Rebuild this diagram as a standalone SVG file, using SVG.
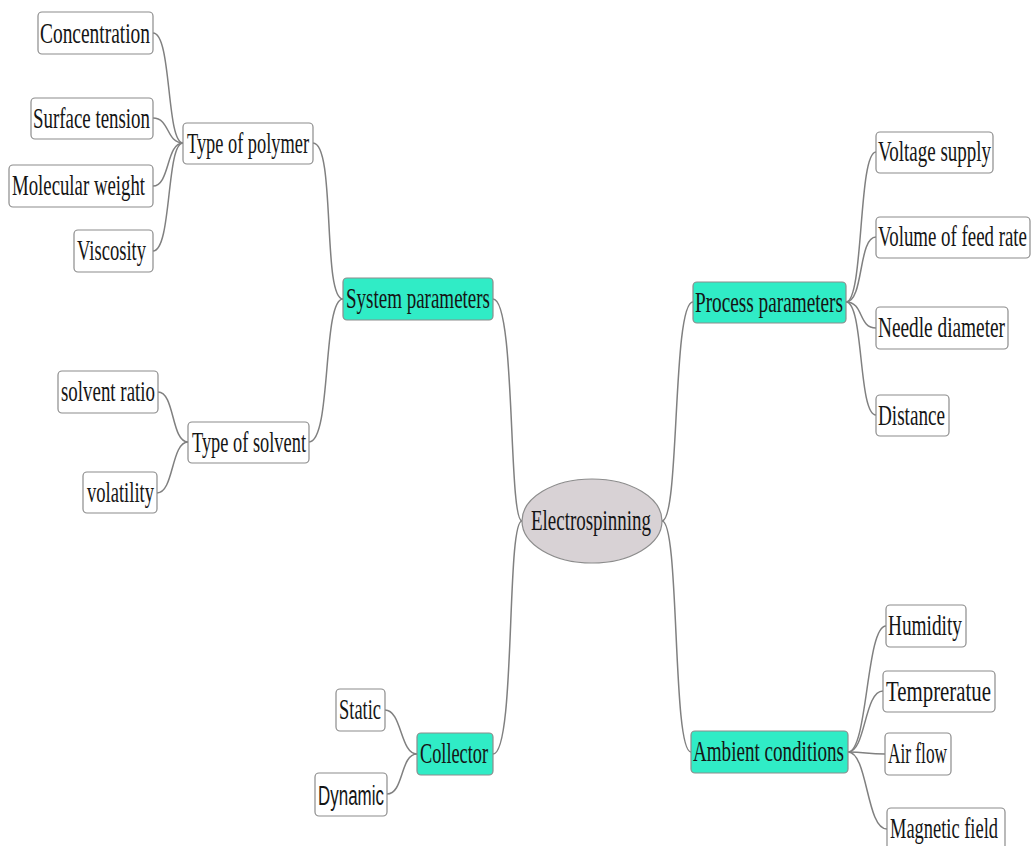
<svg xmlns="http://www.w3.org/2000/svg" width="1031" height="846" viewBox="0 0 1031 846">
<style>
.n rect{fill:#fff;stroke:#8c8c8c;stroke-width:1.2}
.m rect{fill:#30ecc6;stroke:#8c8c8c;stroke-width:1.2}
text{font-family:"Liberation Serif",serif;font-size:30px;fill:#151515}
.sans{font-family:"Liberation Sans",Arial,sans-serif;font-size:27px}
#conn path{fill:none;stroke:#808080;stroke-width:1.5}
</style>
<rect width="1031" height="846" fill="#fff"/>
<g id="conn">
<path d="M153,33 C172,33 166,143 183,143"/>
<path d="M153,118 C170,118 166,143 183,143"/>
<path d="M153,186 C170,186 166,143 183,143"/>
<path d="M153,251 C172,251 166,143 183,143"/>
<path d="M158,392 C175,392 171,442 188,442"/>
<path d="M157,493 C174,493 171,442 188,442"/>
<path d="M313,143 C336,143 322,299 343,299"/>
<path d="M309,442 C332,442 322,299 343,299"/>
<path d="M493,299 C516,299 508,521 522,521"/>
<path d="M493,754 C516,754 506,521 522,521"/>
<path d="M662,521 C680,521 672,302 693,302"/>
<path d="M662,521 C680,521 672,752 691,752"/>
<path d="M846,302 C864,302 858,152 876,152"/>
<path d="M846,302 C864,302 858,237 876,237"/>
<path d="M846,302 C864,302 858,328 876,328"/>
<path d="M846,302 C864,302 858,415 876,415"/>
<path d="M848,752 C868,752 866,626 886,626"/>
<path d="M848,752 C866,752 864,691 883,691"/>
<path d="M848,752 C866,752 866,754 885,754"/>
<path d="M848,752 C868,752 866,829 887,829"/>
<path d="M385,710 C402,710 400,754 417,754"/>
<path d="M387,794 C404,794 400,754 417,754"/>
</g>
<g id="electrospinning">
<ellipse cx="592" cy="521" rx="70" ry="42" fill="#d8d2d5" stroke="#8c8c8c" stroke-width="1.2"/>
<text x="531" y="530" textLength="120" lengthAdjust="spacingAndGlyphs">Electrospinning</text>
</g>
<g id="system" class="m"><rect x="343" y="278" width="150" height="42" rx="4"/><text x="346" y="308" textLength="144" lengthAdjust="spacingAndGlyphs">System parameters</text></g>
<g id="polymer" class="n"><rect x="183" y="123" width="130" height="41" rx="4"/><text x="187" y="153" textLength="122" lengthAdjust="spacingAndGlyphs">Type of polymer</text></g>
<g id="concentration" class="n"><rect x="38" y="12" width="115" height="42" rx="4"/><text x="40" y="43" textLength="110" lengthAdjust="spacingAndGlyphs">Concentration</text></g>
<g id="surface" class="n"><rect x="31" y="98" width="122" height="41" rx="4"/><text x="33" y="128" textLength="117" lengthAdjust="spacingAndGlyphs">Surface tension</text></g>
<g id="molecular" class="n"><rect x="9" y="165" width="144" height="42" rx="4"/><text x="12" y="195" textLength="133" lengthAdjust="spacingAndGlyphs">Molecular weight</text></g>
<g id="viscosity" class="n"><rect x="74" y="230" width="79" height="42" rx="4"/><text x="77" y="260" textLength="69" lengthAdjust="spacingAndGlyphs">Viscosity</text></g>
<g id="solvent" class="n"><rect x="188" y="422" width="121" height="41" rx="4"/><text x="192" y="452" textLength="114" lengthAdjust="spacingAndGlyphs">Type of solvent</text></g>
<g id="ratio" class="n"><rect x="58" y="371" width="100" height="42" rx="4"/><text x="61" y="401" textLength="94" lengthAdjust="spacingAndGlyphs">solvent ratio</text></g>
<g id="volatility" class="n"><rect x="83" y="472" width="74" height="41" rx="4"/><text x="87" y="502" textLength="67" lengthAdjust="spacingAndGlyphs">volatility</text></g>
<g id="collector" class="m"><rect x="417" y="733" width="76" height="42" rx="4"/><text x="420" y="763" textLength="68" lengthAdjust="spacingAndGlyphs">Collector</text></g>
<g id="static" class="n"><rect x="336" y="689" width="49" height="42" rx="4"/><text x="339" y="719" textLength="42" lengthAdjust="spacingAndGlyphs">Static</text></g>
<g id="dynamic" class="n"><rect x="315" y="773" width="72" height="43" rx="4"/><text class="sans" x="318" y="805" textLength="66" lengthAdjust="spacingAndGlyphs">Dynamic</text></g>
<g id="process" class="m"><rect x="693" y="282" width="153" height="41" rx="4"/><text x="695" y="312" textLength="148" lengthAdjust="spacingAndGlyphs">Process parameters</text></g>
<g id="voltage" class="n"><rect x="876" y="132" width="117" height="41" rx="4"/><text x="878" y="161" textLength="113" lengthAdjust="spacingAndGlyphs">Voltage supply</text></g>
<g id="volume" class="n"><rect x="876" y="217" width="154" height="41" rx="4"/><text x="878" y="246" textLength="149" lengthAdjust="spacingAndGlyphs">Volume of feed rate</text></g>
<g id="needle" class="n"><rect x="876" y="307" width="132" height="42" rx="4"/><text x="878" y="337" textLength="127" lengthAdjust="spacingAndGlyphs">Needle diameter</text></g>
<g id="distance" class="n"><rect x="876" y="395" width="73" height="41" rx="4"/><text x="878" y="425" textLength="67" lengthAdjust="spacingAndGlyphs">Distance</text></g>
<g id="ambient" class="m"><rect x="691" y="731" width="157" height="42" rx="4"/><text x="693" y="761" textLength="151" lengthAdjust="spacingAndGlyphs">Ambient conditions</text></g>
<g id="humidity" class="n"><rect x="886" y="605" width="80" height="42" rx="4"/><text x="888" y="635" textLength="74" lengthAdjust="spacingAndGlyphs">Humidity</text></g>
<g id="temperature" class="n"><rect x="883" y="671" width="112" height="41" rx="4"/><text x="886" y="701" textLength="105" lengthAdjust="spacingAndGlyphs">Tempreratue</text></g>
<g id="airflow" class="n"><rect x="885" y="733" width="66" height="42" rx="4"/><text x="888" y="763" textLength="59" lengthAdjust="spacingAndGlyphs">Air flow</text></g>
<g id="magnetic" class="n"><rect x="887" y="808" width="118" height="42" rx="4"/><text x="890" y="838" textLength="108" lengthAdjust="spacingAndGlyphs">Magnetic field</text></g>
</svg>
